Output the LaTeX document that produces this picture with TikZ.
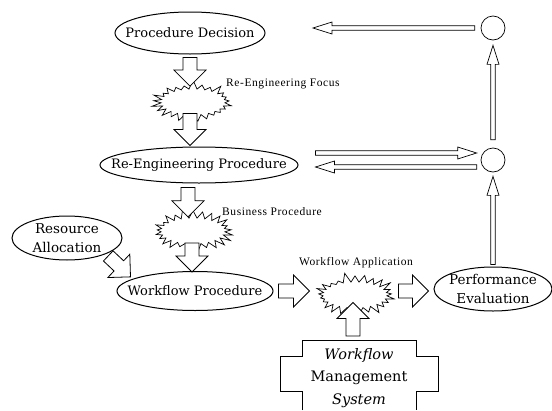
\documentclass[tikz,border=0pt]{standalone}
\usepackage{fontspec}
\setmainfont{DejaVu Serif}
\newfontfamily\lblfont[LetterSpace=5]{Liberation Serif}
\usetikzlibrary{shapes.geometric,shapes.symbols,calc}
\tikzset{
  harrow/.style n args={3}{to path={
    let \p1=(\tikztostart), \p2=(\tikztotarget),
        \n1={atan2(\y2-\y1,\x2-\x1)}, \n2={veclen(\x2-\x1,\y2-\y1)},
        \n3={\n2-#3} in
    ($(\p1)+(\n1+90:#1pt)$) -- ($(\p1)+(\n1:\n3)+(\n1+90:#1pt)$)
    -- ($(\p1)+(\n1:\n3)+(\n1+90:#2pt)$) -- (\p2)
    -- ($(\p1)+(\n1:\n3)+(\n1-90:#2pt)$) -- ($(\p1)+(\n1:\n3)+(\n1-90:#1pt)$)
    -- ($(\p1)+(\n1-90:#1pt)$) -- cycle}},
  fatarr/.style={harrow={7}{16}{16pt}, draw=black, line width=0.8pt, line join=miter, fill=white},
  thinarr/.style={harrow={2.3}{6}{19pt}, draw=black, line width=0.7pt, line join=miter, fill=white},
  oval/.style={ellipse, draw=black, line width=1pt, inner xsep=-40pt, inner ysep=-12pt, align=center,
    font=\fontsize{13}{16}\selectfont},
  burst/.style={starburst, draw=black, line width=0.7pt, starburst points=25,
    starburst point height=10pt, minimum width=84pt, minimum height=46pt, inner sep=0pt},
  lbl/.style={font=\lblfont\fontsize{11.5}{13}\selectfont, inner sep=0pt},
  circ/.style={circle, draw=black, line width=0.7pt, minimum size=24pt, inner sep=0pt},
}
\begin{document}
\begin{tikzpicture}[x=1pt,y=-1pt]
\useasboundingbox (0,0) rectangle (552,410);
% ellipses
\node[oval, minimum width=150pt, minimum height=42pt] (pd) at (190,33) {Procedure Decision};
\node[oval, minimum width=198pt, minimum height=36pt] (rep) at (199,165) {Re-Engineering Procedure};
\node[oval, minimum width=156pt, minimum height=39pt] (wp) at (195,291) {Workflow Procedure};
\node[oval, minimum width=110pt, minimum height=44pt, font=\fontsize{13.5}{19}\selectfont] (ra) at (67,238) {Resource\\Allocation};
\node[oval, minimum width=118pt, minimum height=44pt, font=\fontsize{13.5}{19}\selectfont] (pe) at (493,289) {Performance\\Evaluation};
% starbursts
\node[burst, random starburst=7] (sb1) at (193,102) {};
\node[burst, random starburst=11] (sb2) at (193,231) {};
\node[burst, random starburst=5] (sb3) at (355,295) {};
% labels
\node[lbl, anchor=west] (l1) at (226,84) {Re-Engineering Focus};
\node[lbl, anchor=west] (l2) at (222,212) {Business Procedure};
\node[lbl] (l3) at (356,263) {Workflow Application};
% circles
\node[circ] (c1) at (493,28) {};
\node[circ] (c2) at (493,160) {};
% WMS
\node[align=center, inner sep=0pt, font=\fontsize{14.5}{22.5}\selectfont] (wms) at (359,378)
  {\textit{Workflow}\\Management\\\textit{System}};
\draw[line width=0.8pt] (302,410) -- (302,391) -- (280,391) -- (280,356) -- (302,356) -- (302,340)
  -- (416,340) -- (416,356) -- (438,356) -- (438,391) -- (416,391) -- (416,410);
\coordinate (wmstop) at (353,336);
% fat arrows
\path[fatarr] ($(pd.south)+(0,3)$) to ($(pd.south |- sb1.north)+(0,7)$);
\path[fatarr] ($(pd.south |- sb1.south)+(0,-2)$) to ($(pd.south |- rep.north)+(0,-1)$);
\path[fatarr] ($(rep.south)+(-11,4)$) to ($(rep.south |- sb2.north)+(-11,7)$);
\path[fatarr] ($(wp.north)+(-3,-28)$) to ($(wp.north)+(-3,1)$);
\path[fatarr] ($(ra.south east)+(2,2)$) to ($(wp.north west)+(-9,0)$);
\path[fatarr] ($(wp.east)+(5,0)$) to ($(wp.east)+(36,0)$);
\path[fatarr] ($(pe.west |- wp.east)+(-35,0)$) to ($(pe.west |- wp.east)+(-5,0)$);
\path[fatarr] (wmstop) to ($(wmstop |- sb3.south)+(0,-6)$);
% thin arrows
\coordinate (t1) at (313,28);
\path[thinarr] ($(c1.west)+(-6,0)$) to (t1);
\path[thinarr] ($(rep.east)+(17,-12)$) to ($(c2.west)+(-4,-7)$);
\path[thinarr] ($(c2.west)+(-4,7)$) to ($(rep.east)+(17,2)$);
\path[thinarr] ($(c2.north)+(0,-8)$) to ($(c1.south)+(0,5)$);
\path[thinarr] ($(pe.north)+(0,-2)$) to ($(c2.south)+(0,4)$);
\end{tikzpicture}
\end{document}
